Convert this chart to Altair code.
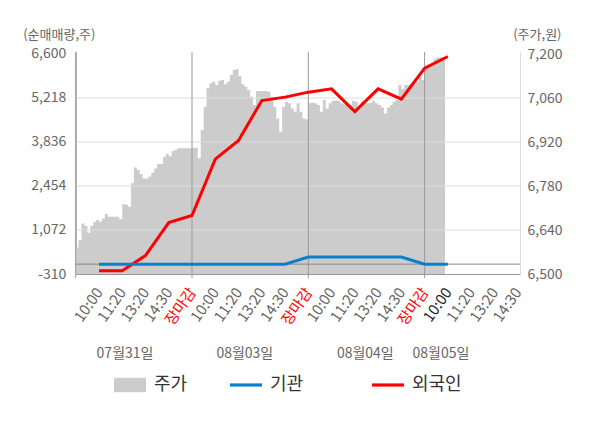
import json
import altair as alt
import pandas as pd

FONT = "Noto Sans CJK KR"

# ---------------- data ----------------
time_labels = ["10:00", "11:20", "13:20", "14:30", "장마감",
               "10:00", "11:20", "13:20", "14:30", "장마감",
               "10:00", "11:20", "13:20", "14:30", "장마감",
               "10:00", "11:20", "13:20", "14:30"]
day_bounds = [0, 5, 10, 15]
date_labels = ["07월31일", "08월03일", "08월04일", "08월05일"]
date_label_pos = [2.12, 7.27, 12.45, 15.7]

left_ticks = [-310, 1072, 2454, 3836, 5218, 6600]
right_ticks = [6500, 6640, 6780, 6920, 7060, 7200]

# 외국인 / 기관 net buying at each labelled time slot (slots 1..16)
foreign = [-210, -210, 270, 1307, 1527, 3298, 3882, 5139, 5245, 5402,
           5506, 4793, 5506, 5183, 6156, 6521]
institution = [0, 0, 0, 0, 0, 0, 0, 0, 0, 225,
               225, 225, 225, 225, 0, 0]

# 주가 intraday price, 40 samples per session (last session partial)
price_day1 = [6584, 6608, 6661, 6653, 6631, 6653, 6666, 6672, 6666, 6676,
              6691, 6682, 6682, 6682, 6682, 6674, 6723, 6720, 6714, 6789,
              6839, 6831, 6818, 6804, 6804, 6810, 6822, 6836, 6850, 6850,
              6873, 6882, 6875, 6891, 6895, 6900, 6900, 6900, 6900, 6900]
price_day2 = [6902, 6902, 6868, 6958, 7032, 7091, 7107, 7112, 7101, 7115,
              7117, 7104, 7112, 7133, 7149, 7152, 7130, 7104, 7096, 7085,
              7064, 7038, 7082, 7082, 7082, 7082, 7080, 7064, 7032, 6995,
              6953, 7032, 7048, 7043, 7027, 7016, 7043, 7016, 6995, 6992]
price_day3 = [7043, 7045, 7043, 7038, 7016, 7054, 7027, 7043, 7051, 7051,
              7051, 7043, 7040, 7040, 7038, 7051, 7048, 7027, 7048, 7043,
              7043, 7045, 7051, 7043, 7038, 7030, 7011, 7030, 7038, 7048,
              7054, 7101, 7088, 7101, 7101, 7107, 7107, 7112, 7128, 7117]
price_day4 = [7160, 7165, 7170, 7183, 7189, 7189, 7189, 7189]

series_names = ["주가", "기관", "외국인"]
series_colors = ["#cccccc", "#0a80cc", "#ff0000"]
series_shapes = ["M-1,-0.45H1V0.45H-1Z", "M-1,-0.1H1V0.1H-1Z", "M-1,-0.1H1V0.1H-1Z"]

# ---------------- tables ----------------
prices = price_day1 + price_day2 + price_day3 + price_day4
samples_per_slot = 8  # 40 samples per 5 label slots
price_df = pd.DataFrame({"t": [i / samples_per_slot for i in range(len(prices))],
                         "price": prices})
lines_df = pd.DataFrame({"idx": list(range(1, len(foreign) + 1)),
                         "foreign": foreign, "inst": institution})
grid_df = pd.DataFrame({"v": left_ticks[1:-1]})
zero_df = pd.DataFrame({"v": [0]})
bounds_df = pd.DataFrame({"d": day_bounds})
date_df = pd.DataFrame({"pos": date_label_pos, "label": date_labels})
legend_df = pd.DataFrame({"s": series_names})

W, H = 444.3, 222

x_scale = alt.Scale(domain=[0, 19.1], nice=False, zero=False)
left_scale = alt.Scale(domain=[-310, 6662.8], nice=False, zero=False)
right_scale = alt.Scale(domain=[6500, 7206.4], nice=False, zero=False)

label_arr = json.dumps([""] + time_labels, ensure_ascii=False)
x_axis = alt.Axis(
    values=list(range(1, len(time_labels) + 1)),
    labelExpr=f"{label_arr}[datum.value]",
    labelAngle=-55, labelAlign="right", labelBaseline="middle",
    labelPadding=15, ticks=False, grid=False, domainColor="#999999",
    labelFontSize=15, labelFont=FONT, labelOverlap=False, labelFlush=False,
    labelColor={"condition": [{"test": "datum.value % 5 === 0", "value": "#ff0000"},
                              {"test": "datum.value === 16", "value": "#222222"}],
                "value": "#666666"},
    title=None,
)

left_axis = alt.Axis(
    orient="left", values=left_ticks,
    labelExpr="replace(format(datum.value, ','), '\u2212', '-')",
    ticks=False, grid=False, labelPadding=10, domainColor="#999999",
    labelFontSize=14, labelColor="#666666", labelFont=FONT, labelFlush=False,
    title="(순매매량,주)", titleAngle=0, titleAlign="left", titleBaseline="middle",
    titleX=-53, titleY=-18, titleFontSize=13, titleFontWeight="normal",
    titleColor="#666666", titleFont=FONT,
)

right_axis = alt.Axis(
    orient="right", values=right_ticks,
    labelExpr="format(datum.value, ',')",
    ticks=False, grid=False, labelPadding=7, domainColor="#dddddd",
    labelFontSize=14, labelColor="#666666", labelFont=FONT, labelFlush=False,
    title="(주가,원)", titleAngle=0, titleAlign="right", titleBaseline="middle",
    titleX=41, titleY=-18, titleFontSize=13, titleFontWeight="normal",
    titleColor="#666666", titleFont=FONT,
)

area = alt.Chart(price_df).mark_area(color="#cccccc", interpolate="step-after", clip=True).encode(
    x=alt.X("t:Q", scale=x_scale, axis=x_axis),
    y=alt.Y("price:Q", scale=right_scale, axis=right_axis),
)

grid = alt.Chart(grid_df).mark_rule(color="#dcdcdc", strokeWidth=1).encode(
    y=alt.Y("v:Q", scale=left_scale, axis=left_axis),
)

vlines = alt.Chart(bounds_df).mark_rule(color="#999999", strokeWidth=1).encode(
    x=alt.X("d:Q", scale=x_scale, axis=x_axis),
    y=alt.value(0), y2=alt.value(H + 4),
)

zero = alt.Chart(zero_df).mark_rule(color="#888888", strokeWidth=1).encode(
    y=alt.Y("v:Q", scale=left_scale, axis=left_axis),
)

red = alt.Chart(lines_df).mark_line(color="#ff0000", strokeWidth=3).encode(
    x=alt.X("idx:Q", scale=x_scale, axis=x_axis),
    y=alt.Y("foreign:Q", scale=left_scale, axis=left_axis),
)

blue = alt.Chart(lines_df).mark_line(color="#0a80cc", strokeWidth=3).encode(
    x=alt.X("idx:Q", scale=x_scale, axis=x_axis),
    y=alt.Y("inst:Q", scale=left_scale, axis=left_axis),
)

dates = alt.Chart(date_df).mark_text(font=FONT, fontSize=14, color="#666666").encode(
    x=alt.X("pos:Q", scale=x_scale, axis=x_axis),
    y=alt.value(301.5),
    text="label:N",
)

# trailing blank braille cells widen the second legend entry (not trimmed like spaces)
legend = alt.Legend(
    title=None, orient="none", legendX=38.3, legendY=317, direction="horizontal",
    columns=3, symbolSize=1024, symbolStrokeWidth=0, symbolOpacity=1,
    labelFontSize=18, labelColor="#333333", labelFont=FONT, labelOffset=8,
    columnPadding=42,
    labelExpr="datum.label == '기관' ? datum.label + '\u2800\u2800' : datum.label",
)

legend_layer = alt.Chart(legend_df).transform_filter("false").mark_point(
    filled=True, opacity=1, size=1024
).encode(
    color=alt.Color("s:N", scale=alt.Scale(domain=series_names, range=series_colors), legend=legend),
    shape=alt.Shape("s:N", scale=alt.Scale(domain=series_names, range=series_shapes), legend=legend),
)

left = alt.layer(grid, vlines, zero, red, blue, dates)

chart = alt.layer(area, left, legend_layer).resolve_scale(y="independent").properties(
    width=W, height=H,
    autosize=alt.AutoSizeParams(type="none"),
    padding={"left": 67.7, "top": 44, "right": 72, "bottom": 146},
).configure(font=FONT).configure_view(fill="#f4f4f4", strokeWidth=0)

chart.save("out.html", embed_options={"renderer": "svg", "actions": False})
